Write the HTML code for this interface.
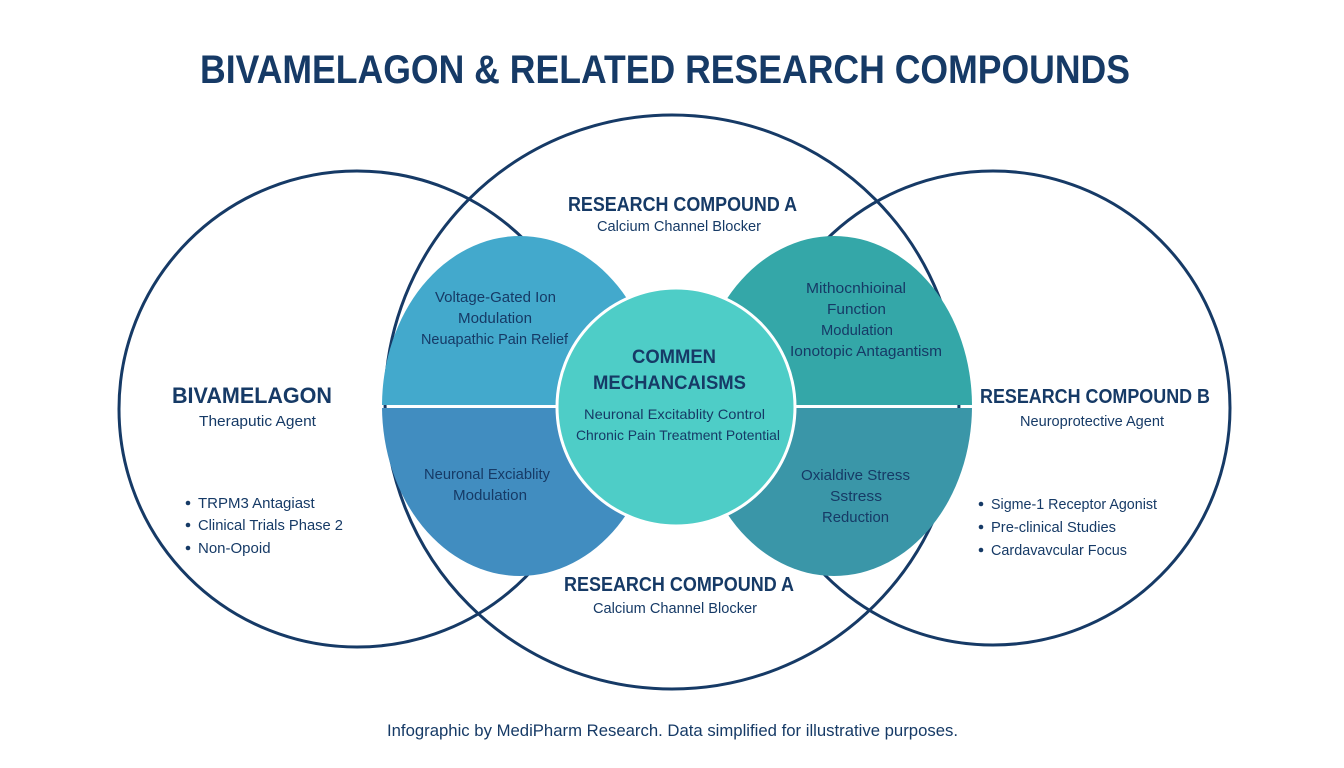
<!DOCTYPE html>
<html><head><meta charset="utf-8"><style>
html,body{margin:0;padding:0;background:#fff;}
svg{display:block;}
text{font-family:"Liberation Sans",sans-serif;fill:#163A66;}
.b{font-weight:bold;}
</style></head><body>
<svg width="1344" height="768" viewBox="0 0 1344 768" xmlns="http://www.w3.org/2000/svg">
<rect width="1344" height="768" fill="#fff"/>
<g fill="none" stroke="#163A66" stroke-width="3">
<circle cx="357" cy="409" r="238"/>
<circle cx="672" cy="402" r="287"/>
<circle cx="993" cy="408" r="237"/>
</g>
<defs>
<clipPath id="top"><rect x="0" y="0" width="1344" height="405"/></clipPath>
<clipPath id="bot"><rect x="0" y="408" width="1344" height="400"/></clipPath>
</defs>
<ellipse cx="520" cy="406" rx="138" ry="170" fill="#43A9CC" clip-path="url(#top)"/>
<ellipse cx="520" cy="406" rx="138" ry="170" fill="#418DC0" clip-path="url(#bot)"/>
<ellipse cx="834" cy="406" rx="138" ry="170" fill="#34A7A8" clip-path="url(#top)"/>
<ellipse cx="834" cy="406" rx="138" ry="170" fill="#3A96A8" clip-path="url(#bot)"/>
<circle cx="676" cy="407" r="119" fill="#4ECDC7" stroke="#fff" stroke-width="3"/>

<text class="b" x="200" y="83" font-size="40" textLength="930" lengthAdjust="spacingAndGlyphs">BIVAMELAGON &amp; RELATED RESEARCH COMPOUNDS</text>

<text class="b" x="568" y="211" font-size="20" textLength="229" lengthAdjust="spacingAndGlyphs">RESEARCH COMPOUND A</text>
<text x="597" y="231" font-size="15" textLength="164" lengthAdjust="spacingAndGlyphs">Calcium Channel Blocker</text>
<text class="b" x="564" y="591" font-size="20" textLength="230" lengthAdjust="spacingAndGlyphs">RESEARCH COMPOUND A</text>
<text x="593" y="613" font-size="15" textLength="164" lengthAdjust="spacingAndGlyphs">Calcium Channel Blocker</text>

<text class="b" x="172" y="403" font-size="22" textLength="160" lengthAdjust="spacingAndGlyphs">BIVAMELAGON</text>
<text x="199" y="426" font-size="15" textLength="117" lengthAdjust="spacingAndGlyphs">Theraputic Agent</text>
<g fill="#163A66">
<circle cx="188" cy="503" r="2.3"/>
<circle cx="188" cy="525" r="2.3"/>
<circle cx="188" cy="548" r="2.3"/>
<circle cx="981" cy="504" r="2.3"/>
<circle cx="981" cy="527" r="2.3"/>
<circle cx="981" cy="550" r="2.3"/>
</g>
<text x="198" y="508" font-size="15">TRPM3 Antagiast</text>
<text x="198" y="530" font-size="15" textLength="145" lengthAdjust="spacingAndGlyphs">Clinical Trials Phase 2</text>
<text x="198" y="553" font-size="15">Non-Opoid</text>

<text class="b" x="980" y="403" font-size="20" textLength="230" lengthAdjust="spacingAndGlyphs">RESEARCH COMPOUND B</text>
<text x="1020" y="426" font-size="15" textLength="144" lengthAdjust="spacingAndGlyphs">Neuroprotective Agent</text>
<text x="991" y="509" font-size="15" textLength="166" lengthAdjust="spacingAndGlyphs">Sigme-1 Receptor Agonist</text>
<text x="991" y="532" font-size="15" textLength="125" lengthAdjust="spacingAndGlyphs">Pre-clinical Studies</text>
<text x="991" y="555" font-size="15" textLength="136" lengthAdjust="spacingAndGlyphs">Cardavavcular Focus</text>

<text x="435" y="302" font-size="15" textLength="121" lengthAdjust="spacingAndGlyphs">Voltage-Gated Ion</text>
<text x="458" y="323" font-size="15" textLength="74" lengthAdjust="spacingAndGlyphs">Modulation</text>
<text x="421" y="344" font-size="15" textLength="147" lengthAdjust="spacingAndGlyphs">Neuapathic Pain Relief</text>
<text x="424" y="479" font-size="15" textLength="126" lengthAdjust="spacingAndGlyphs">Neuronal Exciablity</text>
<text x="453" y="500" font-size="15" textLength="74" lengthAdjust="spacingAndGlyphs">Modulation</text>

<text class="b" x="632" y="363" font-size="19" textLength="84" lengthAdjust="spacingAndGlyphs">COMMEN</text>
<text class="b" x="593" y="389" font-size="19" textLength="153" lengthAdjust="spacingAndGlyphs">MECHANCAISMS</text>
<text x="584" y="419" font-size="14" textLength="181" lengthAdjust="spacingAndGlyphs">Neuronal Excitablity Control</text>
<text x="576" y="440" font-size="14" textLength="204" lengthAdjust="spacingAndGlyphs">Chronic Pain Treatment Potential</text>

<text x="806" y="293" font-size="15" textLength="100" lengthAdjust="spacingAndGlyphs">Mithocnhioinal</text>
<text x="827" y="314" font-size="15" textLength="59" lengthAdjust="spacingAndGlyphs">Function</text>
<text x="821" y="335" font-size="15" textLength="72" lengthAdjust="spacingAndGlyphs">Modulation</text>
<text x="790" y="356" font-size="15" textLength="152" lengthAdjust="spacingAndGlyphs">Ionotopic Antagantism</text>
<text x="801" y="480" font-size="15" textLength="109" lengthAdjust="spacingAndGlyphs">Oxialdive Stress</text>
<text x="830" y="501" font-size="15" textLength="52" lengthAdjust="spacingAndGlyphs">Sstress</text>
<text x="822" y="522" font-size="15" textLength="67" lengthAdjust="spacingAndGlyphs">Reduction</text>

<text x="387" y="736" font-size="17" textLength="571" lengthAdjust="spacingAndGlyphs">Infographic by MediPharm Research. Data simplified for illustrative purposes.</text>
</svg>
</body></html>
